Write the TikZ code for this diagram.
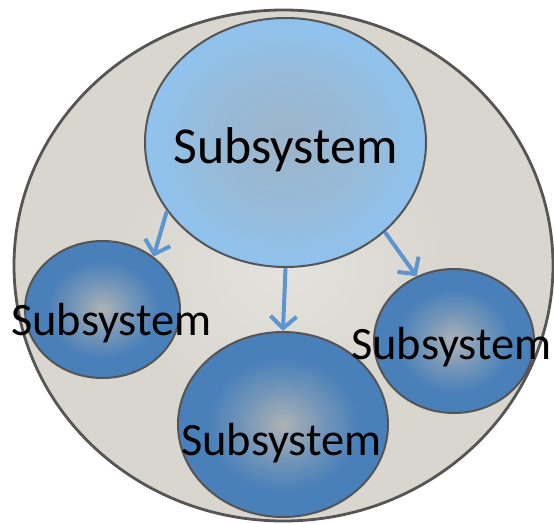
\documentclass[tikz,border=0pt]{standalone}
\usepackage{fontspec}
\setmainfont{Carlito}
\usetikzlibrary{shapes.geometric,arrows.meta}
\definecolor{outA}{HTML}{E4E2DC}
\definecolor{outB}{HTML}{D8D6CF}
\definecolor{topA}{HTML}{9DB4C9}
\definecolor{topB}{HTML}{8FC3EE}
\definecolor{subA}{HTML}{ADB3B6}
\definecolor{subB}{HTML}{4A80B9}
\definecolor{rimC}{HTML}{555555}
\definecolor{arrC}{HTML}{5B96D0}
\pgfdeclareradialshading{outerS}{\pgfpoint{0bp}{0bp}}{color(0bp)=(outA);color(15bp)=(outB);color(25bp)=(outB);color(50bp)=(outB)}
\pgfdeclareradialshading{topS}{\pgfpoint{0bp}{0bp}}{color(0bp)=(topA);color(14bp)=(topA!55!topB);color(25bp)=(topB);color(50bp)=(topB)}
\pgfdeclareradialshading{subS}{\pgfpoint{0bp}{0bp}}{color(0bp)=(subA);color(10bp)=(subA!40!subB);color(18bp)=(subB);color(50bp)=(subB)}
\tikzset{
  blob/.style={ellipse, draw=rimC, line width=2pt, inner sep=0pt},
  lbl/.style={anchor=base, inner sep=0pt, text=black},
  arr/.style={draw=arrC, line width=4pt, -{Straight Barb[length=12pt,width=26pt]}}
}
\begin{document}
\begin{tikzpicture}[x=1pt,y=-1pt]
\useasboundingbox (0,0) rectangle (554,524);
\node[blob, line width=2.8pt, shading=outerS, minimum width=539pt, minimum height=511pt] (outer) at (283.5,265.5) {};
\node[blob, shading=topS, minimum width=281pt, minimum height=249pt] (top) at (285.5,142.5) {};
\node[blob, shading=subS, minimum width=155pt, minimum height=137pt] (left) at (102.5,309.5) {};
\node[blob, shading=subS, minimum width=210pt, minimum height=185pt] (bottom) at (283,424.5) {};
\node[blob, shading=subS, minimum width=160pt, minimum height=144pt] (right) at (454,341) {};
\draw[arr] (top.210.7) -- (left.46);
\draw[arr] (top.-90) -- (bottom.90);
\draw[arr] (top.-42) -- (right.120.6);
\node[lbl, font=\fontsize{51.8pt}{60pt}\selectfont] (ttop) at (285.5,164) {Subsystem};
\node[lbl, font=\fontsize{46.4pt}{54pt}\selectfont] (tleft) at (111.5,335) {Subsystem};
\node[lbl, font=\fontsize{46.4pt}{54pt}\selectfont] (tbottom) at (281.5,455) {Subsystem};
\node[lbl, font=\fontsize{46.4pt}{54pt}\selectfont] (tright) at (451.5,359) {Subsystem};
\end{tikzpicture}
\end{document}
